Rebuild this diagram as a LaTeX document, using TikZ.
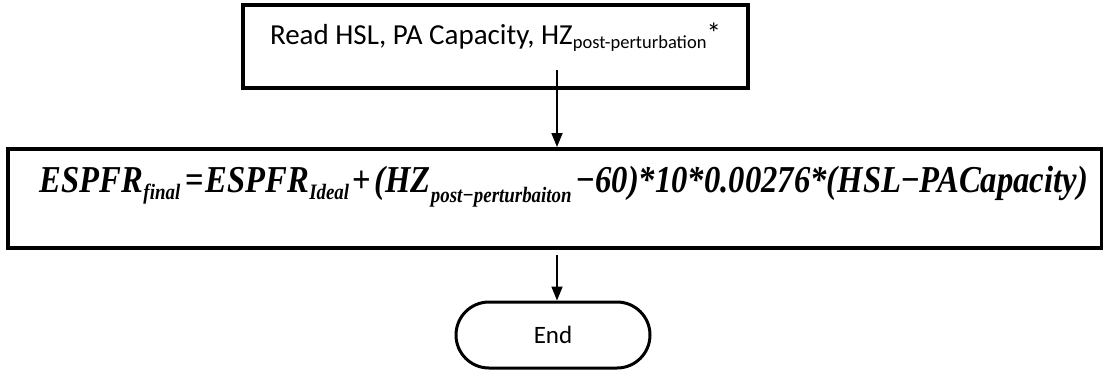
\documentclass[tikz,border=0pt]{standalone}
\usepackage{fontspec}
\setmainfont{Carlito}
\newfontfamily\eqfont{Liberation Serif}
\usetikzlibrary{arrows.meta}
\newcommand\eqsub[2]{\raisebox{-#1}{\fontsize{22}{24}\selectfont #2}}
\newcommand\eqop[1]{\textup{#1}}
\tikzset{
  inbox/.style={draw, line width=3.5pt, minimum width=505pt, minimum height=83pt,
    text height=20pt, text depth=25pt, inner sep=0pt, font=\fontsize{29}{32}\selectfont},
  eqbox/.style={draw, line width=4pt, minimum width=1094pt, minimum height=99pt,
    text height=22pt, text depth=35pt, inner sep=0pt},
  endbox/.style={draw, line width=3pt, rounded corners=33pt, minimum width=194pt,
    minimum height=66pt, inner sep=0pt, font=\fontsize{25}{28}\selectfont},
  flow/.style={line width=1.8pt, -{Triangle[length=14pt,width=11pt]}}
}
\begin{document}
\begin{tikzpicture}[x=1pt,y=-1pt]
  \useasboundingbox (0,0) rectangle (1103,373);
  \draw
    (495.5,46.5) node[inbox] (read){Read HSL, PA Capacity,
      HZ{\fontsize{18.5}{20}\selectfont\raisebox{-4pt}{post-perturbation}}\raisebox{1pt}{*}}
    (555,198.5) node[eqbox] (espfr){\hspace*{18pt}\resizebox{1048pt}{\height}{\eqfont\fontsize{38}{40}\selectfont\bfseries\itshape
      ESPFR\eqsub{7pt}{final}\hspace{6pt}\eqop{=}\hspace{2pt}ESPFR\eqsub{7pt}{Ideal}\hspace{4pt}\eqop{+}\hspace{4pt}(HZ\eqsub{10pt}{post\textminus perturbaiton}\hspace{6pt}\eqop{\textminus}60)*10*0.00276*(HSL\eqop{\textminus}PACapacity)}}
    (553,335) node[endbox] (end){End};
  \coordinate (a1) at (557,70);
  \coordinate (a2) at (557,255);
  \draw[flow] (a1) -- (a1 |- espfr.north);
  \draw[flow] (a2) -- (a2 |- end.north);
\end{tikzpicture}
\end{document}
